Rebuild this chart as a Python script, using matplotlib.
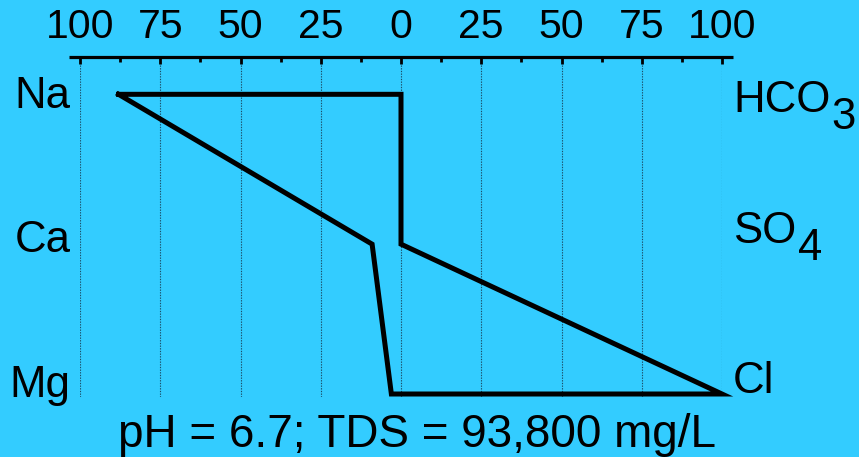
import matplotlib as mpl
mpl.use('Agg')
import matplotlib.pyplot as plt

plt.rcParams['font.family'] = ['Liberation Sans', 'DejaVu Sans']

# stiff diagram values (meq %)
cations = ['Na', 'Ca', 'Mg']
cation_vals = [88, 9, 3]
anions = [('HCO', '3'), ('SO', '4'), ('Cl', '')]
anion_vals = [0, 0, 100]
tick_vals = [-100, -75, -50, -25, 0, 25, 50, 75, 100]
tick_labels = ['100', '75', '50', '25', '0', '25', '50', '75', '100']
caption = 'pH = 6.7; TDS = 93,800 mg/L'

bg = '#33ccff'
fig = plt.figure(figsize=(8.59, 4.57), dpi=100, facecolor=bg)
ax = fig.add_axes([80/859, 60/457, 642/859, 340/457])
ax.set_facecolor(bg)
ax.set_xlim(-100, 100)
ax.set_ylim(2.020, -0.249)

for s in ax.spines.values():
    s.set_visible(False)

# dotted grid
for v in tick_vals:
    ax.axvline(v, color='#1b4e68', lw=0.8, ls=(0, (1.2, 1.2)), zorder=1)

# top scale line
ax.plot([-103.4, 103.4], [1, 1], transform=ax.get_xaxis_transform(),
        color='black', lw=2.3, clip_on=False, solid_capstyle='butt', zorder=3)
ax.xaxis.tick_top()
ax.set_xticks(tick_vals)
ax.set_xticklabels(tick_labels)
ax.set_xticks([v + 12.5 for v in tick_vals[:-1]], minor=True)
ax.tick_params(axis='x', which='major', direction='in', length=5, width=2,
               pad=8, labelsize=29.5, top=True, bottom=False)
ax.tick_params(axis='x', which='minor', direction='in', length=3.5, width=2,
               top=True, bottom=False)
ax.set_yticks([])

# polygon
rows = range(len(cations))
xs = [-v for v in cation_vals[:1]] + anion_vals + [-v for v in cation_vals[::-1]]
ys = [0] + list(rows) + list(rows)[::-1]
ax.plot(xs, ys, color='black', lw=3.6, solid_joinstyle='miter', zorder=4, clip_on=False)

# ion labels
left_dy = [0.091, 0.053, 0.02]
right_dy = [0.118, -0.007, -0.007]
for i, name in enumerate(cations):
    ax.text(-103.0, i + left_dy[i], name, ha='right', va='baseline', fontsize=31.5)
for i, (main, sub) in enumerate(anions):
    t = ax.text(103.4, i + right_dy[i], main, ha='left', va='baseline', fontsize=31.5)
    if sub:
        ax.annotate(sub, xy=(1, 0), xycoords=t, xytext=(1, -5.5),
                    textcoords='offset points', ha='left', va='baseline', fontsize=31.5)

fig.text(417.5/859, 10/457, caption, ha='center', va='baseline', fontsize=33)

fig.savefig('out.png', dpi=100, facecolor=bg)
